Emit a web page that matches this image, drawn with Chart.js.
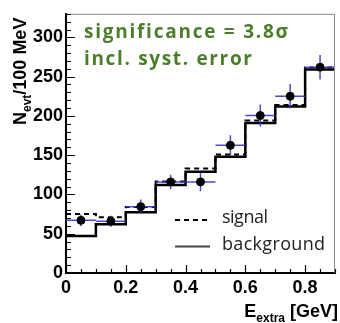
<!DOCTYPE html>
<html>
<head>
<meta charset="utf-8">
<script src="https://cdn.jsdelivr.net/npm/chart.js@4/dist/chart.umd.min.js"></script>
<style>
  html, body { margin: 0; padding: 0; background: #fff; }
  #c { display: block; }
</style>
</head>
<body>
<canvas id="c" width="340" height="323"></canvas>
<script>
// bin edges in E_extra [GeV]
const binEdges = [0, 0.1, 0.2, 0.3, 0.4, 0.5, 0.6, 0.7, 0.8, 0.9];
// expected events per bin
const background = [47, 62, 77.5, 112, 129, 148, 191, 212, 259];
const signal = [75, 71, 84, 116.5, 133, 151, 194, 214, 261.5];
// observed data with stat. errors
const observed = [67, 66, 84.5, 116, 116, 162.5, 200.5, 225, 262];
const obsError = [7.5, 7, 9, 9, 12, 13, 14, 15.5, 15.5];

const xTicks = [0, 0.2, 0.4, 0.6, 0.8];
const yTicks = [0, 50, 100, 150, 200, 250, 300];

const GREEN = '#4c7d2c';
const BLUE = 'rgba(55, 55, 200, 0.9)';
const TICK_FONT = { family: 'Liberation Sans', weight: 'bold', size: 18 };

// histogram as step line through bin edges
function stepData(vals) {
  return binEdges.map((x, i) => ({ x: x, y: vals[Math.min(i, vals.length - 1)] }));
}

const centers = observed.map((v, i) => ({ x: (binEdges[i] + binEdges[i + 1]) / 2, y: v }));

// nudge letter spacing so the text spans the same width as in the original
function fitText(ctx, txt, x, y, width) {
  ctx.letterSpacing = '0px';
  const w = ctx.measureText(txt).width;
  const sp = (width - w) / (txt.length - 1);
  ctx.letterSpacing = sp.toFixed(2) + 'px';
  ctx.fillText(txt, x, y);
  ctx.letterSpacing = '0px';
}

const overlay = {
  id: 'overlay',
  beforeDatasetDraw(chart, args) {
    if (args.index !== 0) return;
    const { ctx, scales: { x, y } } = chart;
    ctx.save();
    ctx.strokeStyle = BLUE;
    ctx.lineWidth = 1.5;
    observed.forEach((v, i) => {
      const px = x.getPixelForValue(centers[i].x);
      const py = y.getPixelForValue(v);
      ctx.beginPath();
      ctx.moveTo(x.getPixelForValue(binEdges[i]), py);
      ctx.lineTo(x.getPixelForValue(binEdges[i + 1]), py);
      ctx.moveTo(px, y.getPixelForValue(v - obsError[i]));
      ctx.lineTo(px, y.getPixelForValue(v + obsError[i]));
      ctx.stroke();
    });
    ctx.restore();
  },
  afterDraw(chart) {
    const { ctx, chartArea: a, scales: { x, y } } = chart;
    ctx.save();

    // frame top/right
    ctx.strokeStyle = '#888';
    ctx.lineWidth = 1;
    ctx.beginPath();
    ctx.moveTo(a.left, a.top + 0.5);
    ctx.lineTo(a.right - 0.5, a.top + 0.5);
    ctx.lineTo(a.right - 0.5, a.bottom);
    ctx.stroke();

    // inward ticks (ROOT style)
    ctx.strokeStyle = '#000';
    ctx.lineWidth = 1.2;
    ctx.beginPath();
    for (let k = 0; k <= 33; k++) {
      const py = Math.round(y.getPixelForValue(k * 10)) + 0.5;
      const len = k % 5 === 0 ? 9 : 5;
      ctx.moveTo(a.left, py);
      ctx.lineTo(a.left + len, py);
    }
    for (let k = 0; k <= 18; k++) {
      const px = Math.round(x.getPixelForValue(k * 0.05)) + 0.5;
      const len = k % 4 === 0 ? 8 : 4;
      ctx.moveTo(px, a.bottom);
      ctx.lineTo(px, a.bottom - len);
    }
    ctx.stroke();

    // significance label
    ctx.fillStyle = GREEN;
    ctx.font = 'bold 19px "Open Sans"';
    ctx.textBaseline = 'alphabetic';
    ctx.textAlign = 'left';
    fitText(ctx, 'significance = 3.8σ', 84, 38, 204);
    fitText(ctx, 'incl. syst. error', 84, 65, 168);

    // legend
    ctx.strokeStyle = '#000';
    ctx.lineWidth = 2;
    ctx.setLineDash([5, 4]);
    ctx.beginPath();
    ctx.moveTo(175, 220);
    ctx.lineTo(209, 220);
    ctx.stroke();
    ctx.setLineDash([]);
    ctx.strokeStyle = '#444';
    ctx.beginPath();
    ctx.moveTo(175, 246.5);
    ctx.lineTo(210, 246.5);
    ctx.stroke();
    ctx.fillStyle = '#222';
    ctx.font = '18px "Open Sans"';
    fitText(ctx, 'signal', 222, 223, 46);
    fitText(ctx, 'background', 222, 250, 103);

    // x axis title
    ctx.fillStyle = '#000';
    const big = 'bold 18px Liberation Sans';
    const sub = 'bold 12px Liberation Sans';
    ctx.font = big;
    const wE = ctx.measureText('E').width;
    const wRest = ctx.measureText(' [GeV]').width;
    ctx.font = sub;
    const wSub = ctx.measureText('extra').width;
    let sx = 338 - (wE + wSub + wRest);
    ctx.font = big;
    ctx.fillText('E', sx, 317);
    ctx.font = sub;
    ctx.fillText('extra', sx + wE, 322);
    ctx.font = big;
    ctx.fillText(' [GeV]', sx + wE + wSub, 317);

    // y axis title
    ctx.translate(26, 125);
    ctx.rotate(-Math.PI / 2);
    ctx.font = big;
    ctx.fillText('N', 0, 0);
    let ox = ctx.measureText('N').width;
    ctx.font = sub;
    ctx.fillText('evt', ox, 5);
    ox += ctx.measureText('evt').width;
    ctx.font = big;
    ctx.fillText('/100 MeV', ox, 0);

    ctx.restore();
  }
};

new Chart(document.getElementById('c'), {
  type: 'line',
  data: {
    datasets: [
      {
        label: 'data',
        type: 'scatter',
        data: centers,
        pointRadius: 4,
        pointBackgroundColor: '#000',
        pointBorderColor: '#000',
        showLine: false
      },
      {
        label: 'background',
        data: stepData(background),
        stepped: 'before',
        borderColor: '#000',
        borderWidth: 2.5,
        pointRadius: 0,
        fill: false
      },
      {
        label: 'signal',
        data: stepData(signal),
        stepped: 'before',
        borderColor: '#000',
        borderWidth: 2,
        borderDash: [5, 4],
        pointRadius: 0,
        fill: false
      }
    ]
  },
  options: {
    responsive: false,
    animation: false,
    layout: { padding: { top: 8, right: 2, left: 0, bottom: 0 } },
    plugins: { legend: { display: false }, tooltip: { enabled: false } },
    scales: {
      x: {
        type: 'linear',
        min: 0,
        max: 0.9,
        afterBuildTicks: s => { s.ticks = xTicks.map(v => ({ value: v })); },
        afterFit: s => { s.height = 50; },
        grid: { drawOnChartArea: false, drawTicks: false },
        border: { color: '#000', width: 2 },
        ticks: {
          color: '#000',
          font: TICK_FONT,
          padding: 4,
          maxRotation: 0,
          autoSkip: false,
          callback: v => (v === 0 ? '0' : v.toFixed(1))
        }
      },
      y: {
        min: 0,
        max: 330,
        afterBuildTicks: s => { s.ticks = yTicks.map(v => ({ value: v })); },
        afterFit: s => { s.width = 66; },
        grid: { drawOnChartArea: false, drawTicks: false },
        border: { color: '#000', width: 2 },
        ticks: { color: '#000', font: TICK_FONT, padding: 3, autoSkip: false }
      }
    }
  },
  plugins: [overlay]
});
</script>
</body>
</html>
